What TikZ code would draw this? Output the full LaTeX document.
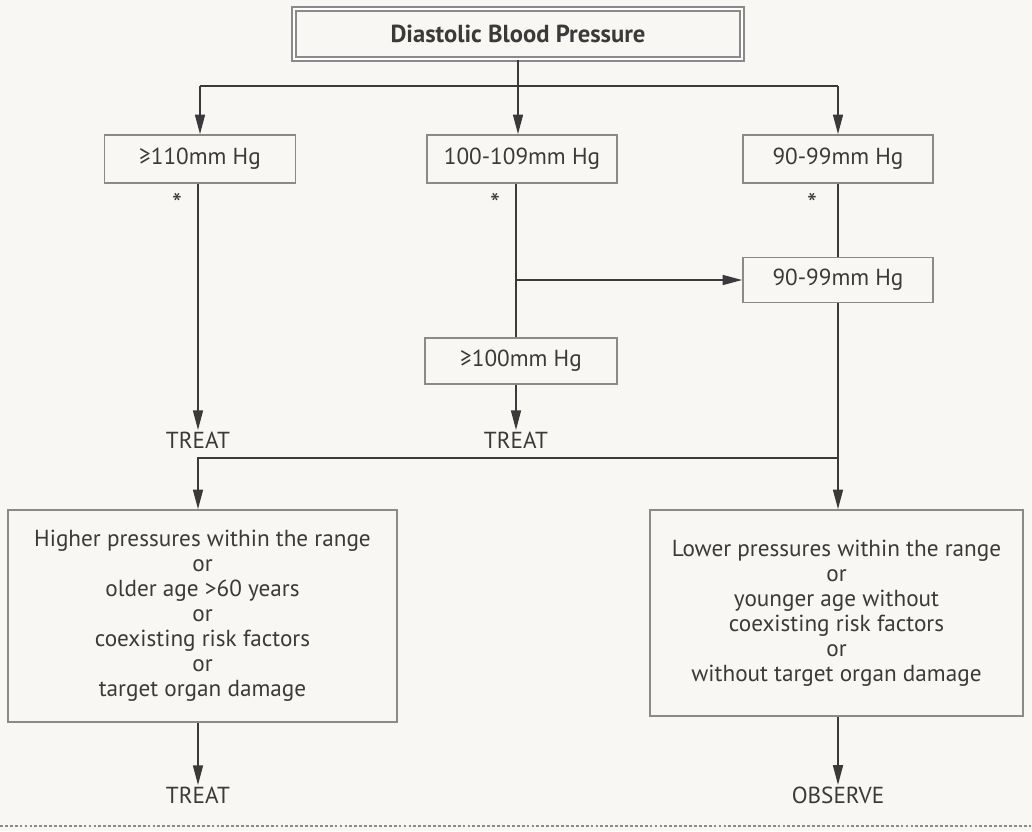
\documentclass[tikz,border=0pt]{standalone}
\usepackage{fontspec}
\setmainfont{PT Sans}
\usetikzlibrary{arrows.meta}
\definecolor{linegray}{HTML}{3A3A3A}
\definecolor{boxgray}{HTML}{8A8A8A}
\definecolor{paper}{HTML}{F8F7F3}
\tikzset{
  box/.style={draw=boxgray, line width=1pt, inner sep=2pt, text=linegray},
  conn/.style={draw=linegray, line width=1.4pt},
  arr/.style={conn, -{Triangle[length=14pt,width=7pt]}},
  outcome/.style={text=linegray, inner sep=1pt}
}
\begin{document}
\begin{tikzpicture}[x=0.025cm, y=-0.025cm, font=\fontsize{16.5}{17.8}\selectfont]
    \fill[paper] (0,0) rectangle (1032,831);
    \useasboundingbox (0,0) rectangle (1032,831);
    % title
    \node[box, double, double distance=2pt, line width=1.2pt, minimum width=11.2cm, minimum height=1.25cm, font=\fontsize{17.5}{19}\selectfont\bfseries] (dbp) at (518,34) {Diastolic Blood Pressure};
    % first row of ranges
    \node[box, minimum width=4.78cm, minimum height=1.2cm] (hi) at (200,159) {≥110mm Hg};
    \node[box, minimum width=4.75cm, minimum height=1.2cm] (mid) at (522,159) {100-109mm Hg};
    \node[box, minimum width=4.75cm, minimum height=1.2cm] (lo) at (838,159) {90-99mm Hg};
    \node[outcome, font=\fontsize{20}{20}\selectfont] (sa) at (177,203) {*};
    \node[outcome, font=\fontsize{20}{20}\selectfont] (sb) at (495,203) {*};
    \node[outcome, font=\fontsize{20}{20}\selectfont] (sc) at (812,203) {*};
    % second row
    \node[box, minimum width=4.75cm, minimum height=1.12cm] (lo2) at (838,280) {90-99mm Hg};
    \node[box, minimum width=4.8cm, minimum height=1.15cm] (mid2) at (521,361) {≥100mm Hg};
    \node[outcome] (treata) at (198,440) {TREAT};
    \node[outcome] (treatb) at (516,440) {TREAT};
    % the two groups
    \node[box, minimum width=9.72cm, minimum height=5.3cm, align=center] (higher) at (202.5,616)
      {Higher pressures within the range\\or\\older age >60 years\\or\\coexisting risk factors\\or\\target organ damage};
    \node[box, minimum width=9.32cm, minimum height=5.15cm, align=center] (lower) at (836.5,613)
      {Lower pressures within the range\\or\\younger age without\\coexisting risk factors\\or\\without target organ damage};
    \node[outcome] (treatc) at (198,795) {TREAT};
    \node[outcome] (observe) at (838,795) {OBSERVE};
    % connectors
    \coordinate (bar) at (518,86);
    \draw[conn] (dbp.south) -- (bar);
    \draw[conn] (hi.north |- bar) -- (lo.north |- bar);
    \draw[arr] (hi.north |- bar) -- (hi.north);
    \draw[arr] (bar) -- (bar |- mid.north);
    \draw[arr] (lo.north |- bar) -- (lo.north);
    \draw[arr] (hi.south -| treata) -- (treata.north);
    \draw[conn] (mid.south -| treatb) -- (mid2.north -| treatb);
    \draw[arr] (treatb |- lo2) -- (lo2.west);
    \draw[arr] (mid2.south -| treatb) -- (treatb.north);
    \draw[conn] (lo.south) -- (lo2.north);
    \coordinate (split) at (838,458);
    \draw[conn] (lo2.south) -- (split);
    \draw[arr] (split) -| (higher.north -| treata);
    \draw[arr] (split) -- (lower.north -| split);
    \draw[arr] (higher.south -| treatc) -- (treatc.north);
    \draw[arr] (lower.south -| observe) -- (observe.north);
    % rule at the foot
    \draw[boxgray, line width=1.2pt, dash pattern=on 2pt off 1.5pt] (0,826) -- (1032,826);
\end{tikzpicture}
\end{document}
